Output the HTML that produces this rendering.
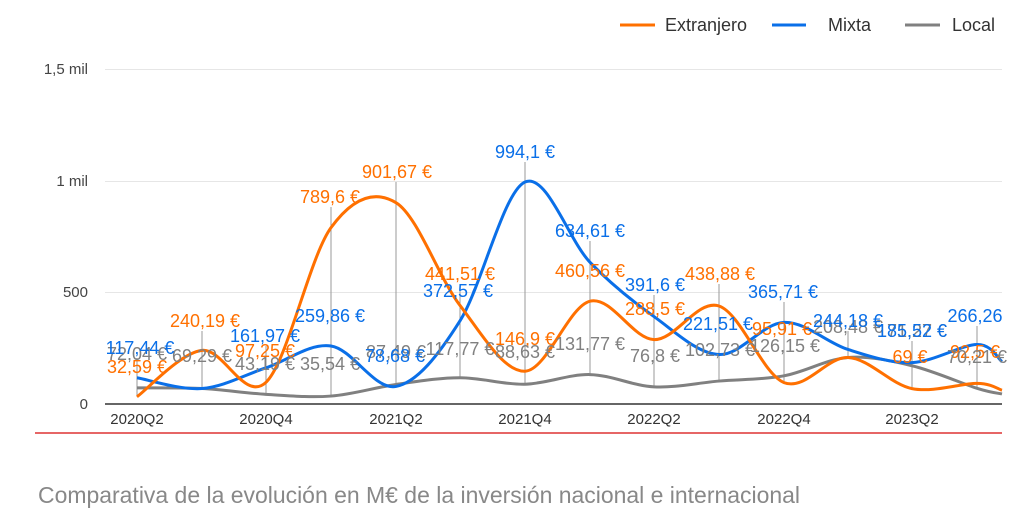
<!DOCTYPE html>
<html><head><meta charset="utf-8"><style>
body{margin:0;background:#fff;width:1024px;height:516px;overflow:hidden;font-family:"Liberation Sans",Arial,sans-serif}
</style></head><body>
<svg id="s" width="1024" height="516" xmlns="http://www.w3.org/2000/svg" font-family="Liberation Sans, Arial, sans-serif">
<g stroke="#e6e6e6" stroke-width="1">
<line x1="105" x2="1002" y1="292.5" y2="292.5"/><line x1="105" x2="1002" y1="181.5" y2="181.5"/><line x1="105" x2="1002" y1="69.5" y2="69.5"/>
</g>
<g font-size="15" fill="#444" text-anchor="end">
<text x="88" y="409">0</text><text x="88" y="297">500</text><text x="88" y="186">1 mil</text><text x="88" y="74">1,5 mil</text>
</g>
<g id="stems" stroke="#999" stroke-width="1"></g>
<g id="lines" fill="none" stroke-width="3"></g>
<line x1="105" x2="1002" y1="404" y2="404" stroke="#333" stroke-width="1.5"/>
<g font-size="15" fill="#333" text-anchor="middle">
<text x="137" y="424">2020Q2</text><text x="266" y="424">2020Q4</text><text x="396" y="424">2021Q2</text><text x="525" y="424">2021Q4</text><text x="654" y="424">2022Q2</text><text x="784" y="424">2022Q4</text><text x="912" y="424">2023Q2</text>
</g>
<g id="labels" font-size="18" text-anchor="middle"></g>
<line x1="35" x2="1002" y1="433" y2="433" stroke="#d33" stroke-width="1.5"/>
<text x="38" y="503" font-size="23" fill="#888" textLength="762" lengthAdjust="spacingAndGlyphs">Comparativa de la evolución en M€ de la inversión nacional e internacional</text>
<g font-size="18" fill="#333">
<line x1="620" x2="655" y1="25" y2="25" stroke="#ff7000" stroke-width="3"/><text x="665" y="31">Extranjero</text>
<line x1="772" x2="806" y1="25" y2="25" stroke="#0a6fe8" stroke-width="3"/><text x="828" y="31">Mixta</text>
<line x1="905" x2="940" y1="25" y2="25" stroke="#808080" stroke-width="3"/><text x="952" y="31">Local</text>
</g>
</svg>
<script>
(function(){
var X=[137,202,266,331,396,460,525,590,654,719,784,848,912,977,1002];
function Y(v){return 404-v*0.2233;}
var ser={
o:{c:"#ff7000",v:[32.59,240.19,97.25,789.6,901.67,441.51,146.9,460.56,288.5,438.88,95.91,208,69,92.5,62]},
b:{c:"#0a6fe8",v:[117.44,69.29,161.97,259.86,78.68,372.57,994.1,634.61,391.6,221.51,365.71,244.18,185.52,266.26,190]},
g:{c:"#808080",v:[72.04,69.29,43.19,35.54,87.49,117.77,88.63,131.77,76.8,102.73,126.15,208.48,171.27,70.21,45]}
};
function path(v){var p=X.map(function(x,i){return [x,Y(v[i])];});var d="M"+p[0][0]+","+p[0][1];
for(var i=0;i<p.length-1;i++){var a=p[Math.max(0,i-1)],b=p[i],c=p[i+1],e=p[Math.min(p.length-1,i+2)];
var t=0.5/3;d+=" C"+(b[0]+(c[0]-a[0])*t)+","+(b[1]+(c[1]-a[1])*t)+" "+(c[0]-(e[0]-b[0])*t)+","+(c[1]-(e[1]-b[1])*t)+" "+c[0]+","+c[1];}
return d;}
var NS="http://www.w3.org/2000/svg";
var L=document.getElementById("lines");
["g","b","o"].forEach(function(k){var e=document.createElementNS(NS,"path");e.setAttribute("d",path(ser[k].v));e.setAttribute("stroke",ser[k].c);L.appendChild(e);});
var labs=[
["o",137,373,"32,59 €"],["o",205,327,"240,19 €"],["o",265,357,"97,25 €"],["o",330,203,"789,6 €"],["o",397,178,"901,67 €"],["o",460,280,"441,51 €"],["o",525,345,"146,9 €"],["o",590,277,"460,56 €"],["o",655,315,"288,5 €"],["o",720,280,"438,88 €"],["o",782,335,"95,91 €"],["o",910,363,"69 €"],["o",975,358,"92,5 €"],
["g",137,360,"72,04 €"],["g",202,362,"69,29 €"],["g",265,370,"43,19 €"],["g",330,370,"35,54 €"],["g",396,358,"87,49 €"],["g",460,355,"117,77 €"],["g",525,358,"88,63 €"],["g",590,350,"131,77 €"],["g",655,362,"76,8 €"],["g",720,356,"102,73 €"],["g",785,352,"126,15 €"],["g",848,333,"208,48 €"],["g",912,337,"171,27 €"],["g",977,363,"70,21 €"],
["b",140,354,"117,44 €"],["b",265,342,"161,97 €"],["b",330,322,"259,86 €"],["b",395,362,"78,68 €"],["b",458,297,"372,57 €"],["b",525,158,"994,1 €"],["b",590,237,"634,61 €"],["b",655,291,"391,6 €"],["b",718,330,"221,51 €"],["b",783,298,"365,71 €"],["b",848,327,"244,18 €"],["b",912,337,"185,52 €"],["b",975,322,"266,26"]];
var G=document.getElementById("labels"),S=document.getElementById("stems");
labs.forEach(function(l){var t=document.createElementNS(NS,"text");t.setAttribute("x",l[1]);t.setAttribute("y",l[2]);t.setAttribute("fill",ser[l[0]].c);t.textContent=l[3];G.appendChild(t);});
for(var i=0;i<14;i++){var tp=999;labs.forEach(function(l){if(Math.abs(l[1]-X[i])<8)tp=Math.min(tp,l[2]);});
var lo=Math.max(Y(ser.o.v[i]),Y(ser.b.v[i]),Y(ser.g.v[i]));
var e=document.createElementNS(NS,"line");e.setAttribute("x1",X[i]);e.setAttribute("x2",X[i]);e.setAttribute("y1",lo);e.setAttribute("y2",tp+4);S.appendChild(e);}
})();
</script>
</body></html>
